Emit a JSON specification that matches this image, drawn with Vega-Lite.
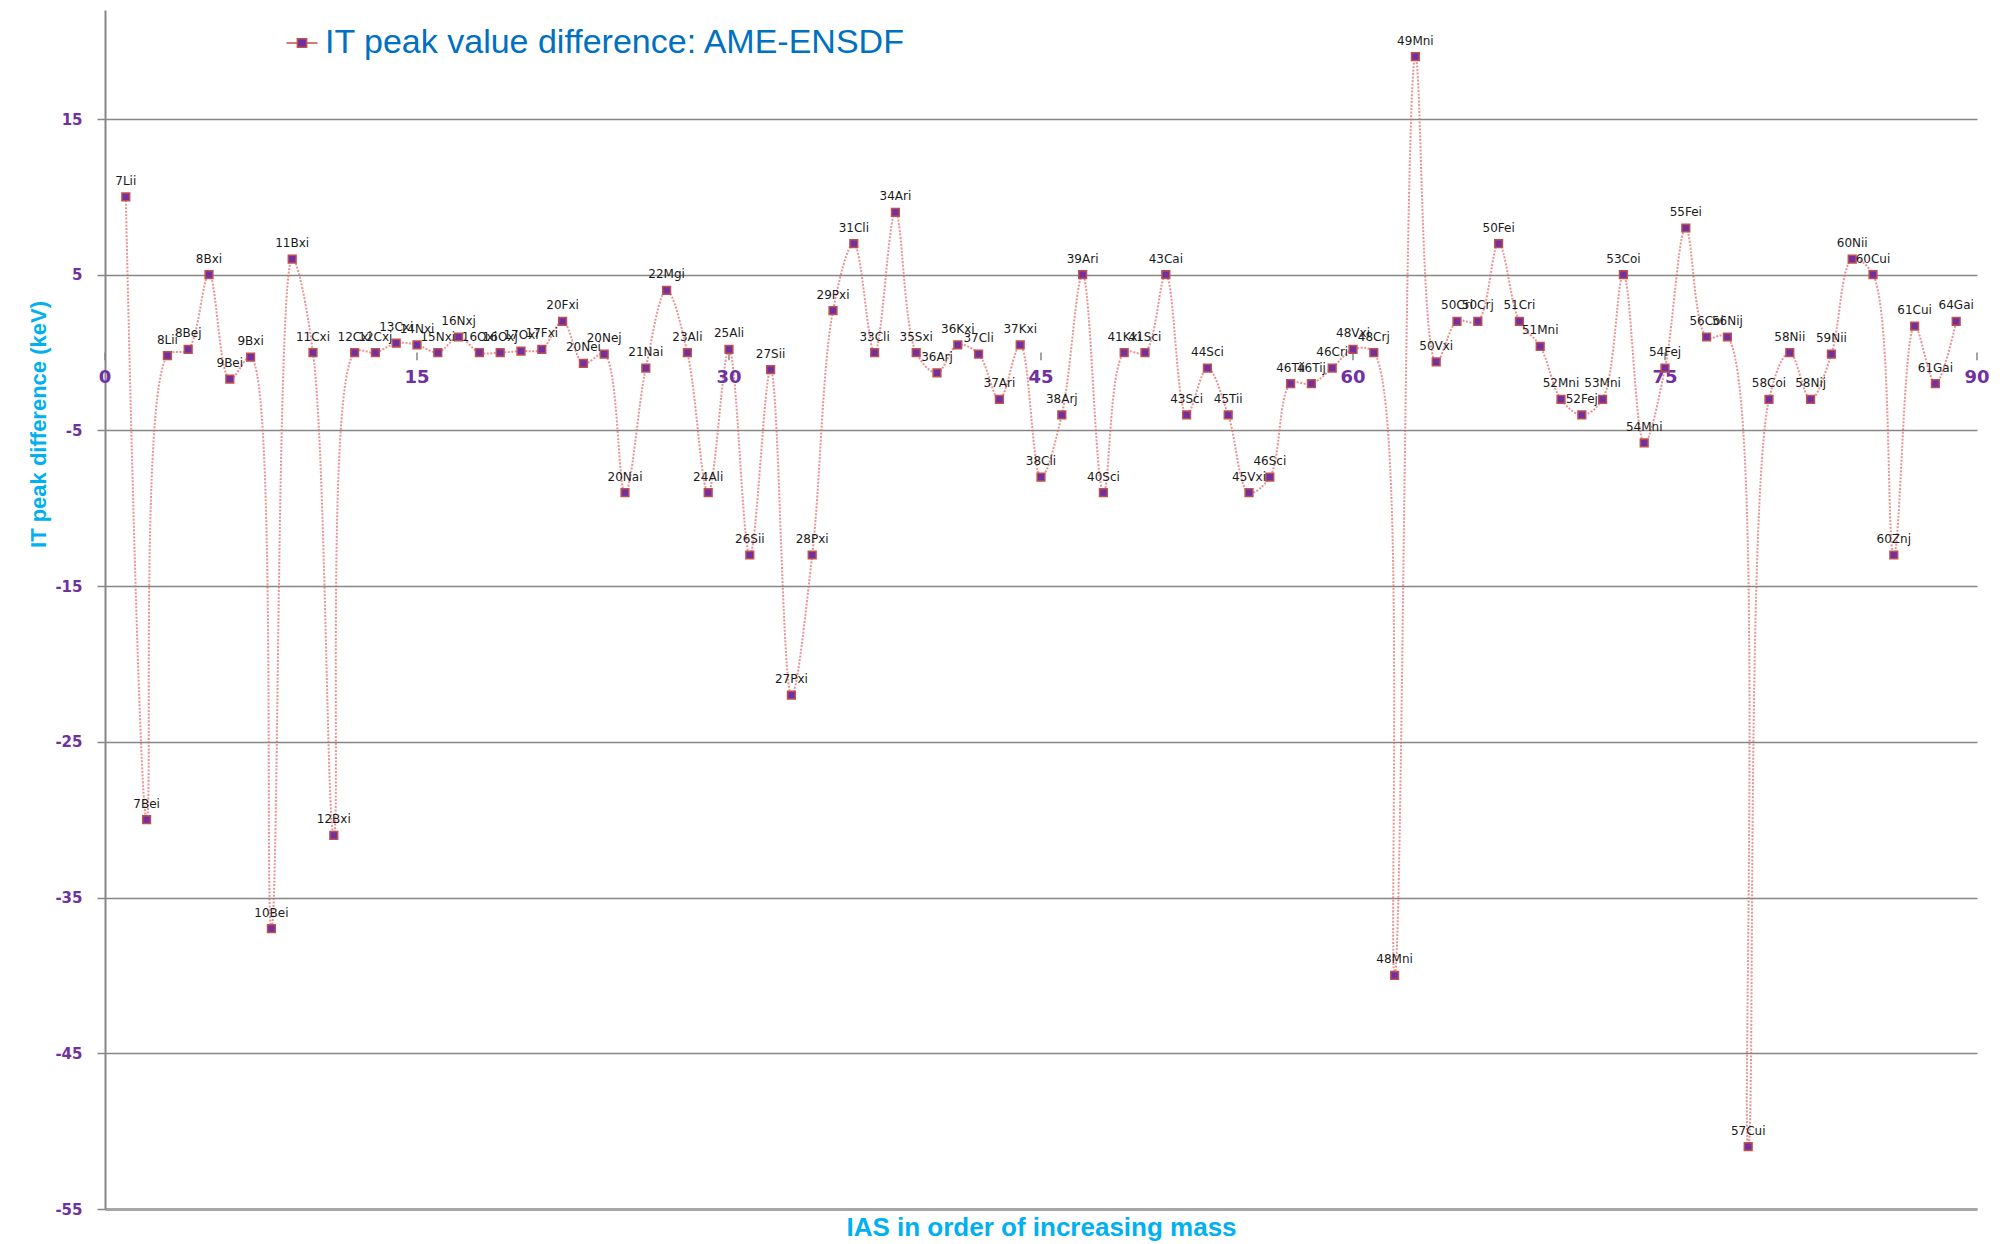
{
  "$schema": "https://vega.github.io/schema/vega-lite/v6.json",
  "width": 1872,
  "height": 1199,
  "autosize": {"type": "none"},
  "padding": {"left": 105, "top": 10, "right": 36, "bottom": 35},
  "background": "white",
  "config": {"view": {"stroke": null}},
  "datasets": {
    "pts": [
      {"n": 1, "v": 10, "label": "7Lii"},
      {"n": 2, "v": -30, "label": "7Bei"},
      {"n": 3, "v": -0.2, "label": "8Lii"},
      {"n": 4, "v": 0.2, "label": "8Bej"},
      {"n": 5, "v": 5, "label": "8Bxi"},
      {"n": 6, "v": -1.7, "label": "9Bei"},
      {"n": 7, "v": -0.3, "label": "9Bxi"},
      {"n": 8, "v": -37, "label": "10Bei"},
      {"n": 9, "v": 6, "label": "11Bxi"},
      {"n": 10, "v": 0, "label": "11Cxi"},
      {"n": 11, "v": -31, "label": "12Bxi"},
      {"n": 12, "v": 0, "label": "12Cxi"},
      {"n": 13, "v": 0, "label": "12Cxj"},
      {"n": 14, "v": 0.6, "label": "13Cxi"},
      {"n": 15, "v": 0.5, "label": "14Nxi"},
      {"n": 16, "v": 0, "label": "15Nxi"},
      {"n": 17, "v": 1, "label": "16Nxj"},
      {"n": 18, "v": 0, "label": "16Oxi"},
      {"n": 19, "v": 0, "label": "16Oxj"},
      {"n": 20, "v": 0.1, "label": "17Oxi"},
      {"n": 21, "v": 0.2, "label": "17Fxi"},
      {"n": 22, "v": 2, "label": "20Fxi"},
      {"n": 23, "v": -0.7, "label": "20Nei"},
      {"n": 24, "v": -0.1, "label": "20Nej"},
      {"n": 25, "v": -9, "label": "20Nai"},
      {"n": 26, "v": -1, "label": "21Nai"},
      {"n": 27, "v": 4, "label": "22Mgi"},
      {"n": 28, "v": 0, "label": "23Ali"},
      {"n": 29, "v": -9, "label": "24Ali"},
      {"n": 30, "v": 0.2, "label": "25Ali"},
      {"n": 31, "v": -13, "label": "26Sii"},
      {"n": 32, "v": -1.1, "label": "27Sii"},
      {"n": 33, "v": -22, "label": "27Pxi"},
      {"n": 34, "v": -13, "label": "28Pxi"},
      {"n": 35, "v": 2.7, "label": "29Pxi"},
      {"n": 36, "v": 7, "label": "31Cli"},
      {"n": 37, "v": 0, "label": "33Cli"},
      {"n": 38, "v": 9, "label": "34Ari"},
      {"n": 39, "v": 0, "label": "35Sxi"},
      {"n": 40, "v": -1.3, "label": "36Arj"},
      {"n": 41, "v": 0.5, "label": "36Kxi"},
      {"n": 42, "v": -0.1, "label": "37Cli"},
      {"n": 43, "v": -3, "label": "37Ari"},
      {"n": 44, "v": 0.5, "label": "37Kxi"},
      {"n": 45, "v": -8, "label": "38Cli"},
      {"n": 46, "v": -4, "label": "38Arj"},
      {"n": 47, "v": 5, "label": "39Ari"},
      {"n": 48, "v": -9, "label": "40Sci"},
      {"n": 49, "v": 0, "label": "41Kxi"},
      {"n": 50, "v": 0, "label": "41Sci"},
      {"n": 51, "v": 5, "label": "43Cai"},
      {"n": 52, "v": -4, "label": "43Sci"},
      {"n": 53, "v": -1, "label": "44Sci"},
      {"n": 54, "v": -4, "label": "45Tii"},
      {"n": 55, "v": -9, "label": "45Vxi"},
      {"n": 56, "v": -8, "label": "46Sci"},
      {"n": 57, "v": -2, "label": "46Tii"},
      {"n": 58, "v": -2, "label": "46Tij"},
      {"n": 59, "v": -1, "label": "46Cri"},
      {"n": 60, "v": 0.2, "label": "48Vxi"},
      {"n": 61, "v": 0, "label": "48Crj"},
      {"n": 62, "v": -40, "label": "48Mni"},
      {"n": 63, "v": 19, "label": "49Mni"},
      {"n": 64, "v": -0.6, "label": "50Vxi"},
      {"n": 65, "v": 2, "label": "50Cri"},
      {"n": 66, "v": 2, "label": "50Crj"},
      {"n": 67, "v": 7, "label": "50Fei"},
      {"n": 68, "v": 2, "label": "51Cri"},
      {"n": 69, "v": 0.4, "label": "51Mni"},
      {"n": 70, "v": -3, "label": "52Mni"},
      {"n": 71, "v": -4, "label": "52Fej"},
      {"n": 72, "v": -3, "label": "53Mni"},
      {"n": 73, "v": 5, "label": "53Coi"},
      {"n": 74, "v": -5.8, "label": "54Mni"},
      {"n": 75, "v": -1, "label": "54Fej"},
      {"n": 76, "v": 8, "label": "55Fei"},
      {"n": 77, "v": 1, "label": "56Coi"},
      {"n": 78, "v": 1, "label": "56Nij"},
      {"n": 79, "v": -51, "label": "57Cui"},
      {"n": 80, "v": -3, "label": "58Coi"},
      {"n": 81, "v": 0, "label": "58Nii"},
      {"n": 82, "v": -3, "label": "58Nij"},
      {"n": 83, "v": -0.1, "label": "59Nii"},
      {"n": 84, "v": 6, "label": "60Nii"},
      {"n": 85, "v": 5, "label": "60Cui"},
      {"n": 86, "v": -13, "label": "60Znj"},
      {"n": 87, "v": 1.7, "label": "61Cui"},
      {"n": 88, "v": -2, "label": "61Gai"},
      {"n": 89, "v": 2, "label": "64Gai"}
    ],
    "ticks": [
      {"t": 0}, {"t": 15}, {"t": 30}, {"t": 45}, {"t": 60}, {"t": 75}, {"t": 90}
    ]
  },
  "layer": [
    {
      "data": {"name": "pts"},
      "mark": {"type": "line", "interpolate": "catmull-rom", "stroke": "#E06666", "strokeOpacity": 0.7, "strokeWidth": 2, "strokeDash": [2, 1.5]},
      "encoding": {
        "x": {
          "field": "n", "type": "quantitative",
          "scale": {"domain": [0, 90], "nice": false, "zero": false},
          "axis": {
            "labels": false, "ticks": false, "grid": false,
            "domain": true, "domainColor": "#A6A6A6", "domainWidth": 3,
            "title": "IAS in order of increasing mass",
            "titleColor": "#00B0F0", "titleFont": "Liberation Sans", "titleFontSize": 26,
            "titleFontWeight": "bold", "titlePadding": 5
          }
        },
        "y": {
          "field": "v", "type": "quantitative",
          "scale": {"domain": [-55, 22], "nice": false, "zero": false},
          "axis": {
            "values": [-55, -45, -35, -25, -15, -5, 5, 15],
            "labelExpr": "replace(datum.label, '\u2212', '-')",
            "grid": true, "gridColor": "#868686", "gridWidth": 1.5,
            "domain": true, "domainColor": "#868686", "domainWidth": 2,
            "tickColor": "#868686", "tickSize": 8, "tickWidth": 1.5,
            "labelColor": "#7030A0", "labelFont": "DejaVu Sans", "labelFontSize": 15,
            "labelFontWeight": "bold", "labelPadding": 15,
            "title": "IT peak difference  (keV)",
            "titleColor": "#00B0F0", "titleFont": "Liberation Sans", "titleFontSize": 22,
            "titleFontWeight": "bold", "titleX": -67, "titleY": 414,
            "titleAlign": "center", "titleBaseline": "middle", "titleAngle": -90
          }
        }
      }
    },
    {
      "mark": {"type": "rule", "color": "#868686", "strokeWidth": 1.5},
      "encoding": {"y": {"datum": 0}}
    },
    {
      "data": {"name": "ticks"},
      "mark": {"type": "rule", "color": "#868686", "strokeWidth": 1.5},
      "encoding": {
        "x": {"field": "t", "type": "quantitative"},
        "y": {"datum": 0},
        "y2": {"datum": -0.5}
      }
    },
    {
      "data": {"name": "ticks"},
      "mark": {"type": "text", "color": "#7030A0", "font": "DejaVu Sans", "fontSize": 18, "fontWeight": "bold", "baseline": "middle", "align": "center", "dy": 25},
      "encoding": {
        "x": {"field": "t", "type": "quantitative"},
        "y": {"datum": 0},
        "text": {"field": "t", "type": "quantitative"}
      }
    },
    {
      "data": {"name": "pts"},
      "mark": {"type": "point", "shape": "square", "filled": true, "size": 60, "stroke": "#C0504D", "strokeWidth": 1.5, "opacity": 1},
      "encoding": {
        "x": {"field": "n", "type": "quantitative"},
        "y": {"field": "v", "type": "quantitative"},
        "color": {
          "datum": "IT peak value difference: AME-ENSDF",
          "type": "nominal",
          "scale": {"range": ["#7030A0"]},
          "legend": {
            "title": null, "orient": "none", "legendX": 180, "legendY": 16,
            "symbolType": "M-1,0H-0.3M0.3,0H1M-0.3,-0.27H0.3V0.27H-0.3Z",
            "symbolSize": 961, "symbolStrokeColor": "#C0504D", "symbolStrokeWidth": 1.5,
            "symbolOpacity": 1,
            "labelFont": "Liberation Sans", "labelFontSize": 34, "labelColor": "#0070C0",
            "labelOffset": 6, "labelLimit": 1000
          }
        }
      }
    },
    {
      "data": {"name": "pts"},
      "mark": {"type": "text", "font": "DejaVu Sans", "fontSize": 12, "color": "#1a1a1a", "baseline": "alphabetic", "align": "center", "dy": -12},
      "encoding": {
        "x": {"field": "n", "type": "quantitative"},
        "y": {"field": "v", "type": "quantitative"},
        "text": {"field": "label", "type": "nominal"}
      }
    }
  ]
}
